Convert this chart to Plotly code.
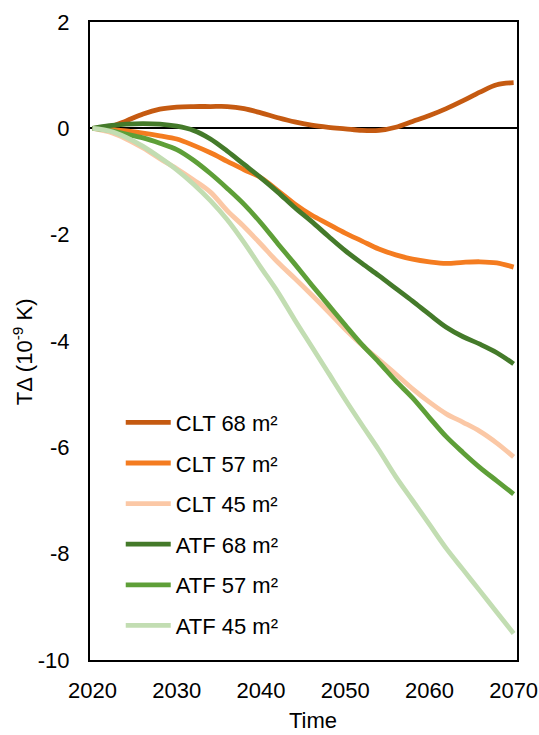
import plotly.graph_objects as go

years = [2020, 2022, 2024, 2026, 2028, 2030, 2032, 2034, 2036, 2038, 2040, 2042, 2044,
         2046, 2048, 2050, 2052, 2054, 2056, 2058, 2060, 2062, 2064, 2066, 2068, 2070]

clt_68 = [0, 0.03, 0.14, 0.27, 0.36, 0.40, 0.41, 0.41, 0.41, 0.37, 0.29, 0.20, 0.12,
          0.06, 0.02, -0.01, -0.04, -0.04, 0.02, 0.13, 0.24, 0.37, 0.52, 0.68, 0.82, 0.86]
clt_57 = [0, -0.02, -0.05, -0.09, -0.14, -0.20, -0.32, -0.46, -0.62, -0.78, -0.93, -1.17, -1.42,
          -1.63, -1.80, -1.97, -2.12, -2.27, -2.38, -2.46, -2.51, -2.54, -2.52, -2.51, -2.53, -2.61]
clt_45 = [0, -0.07, -0.20, -0.37, -0.57, -0.76, -0.97, -1.20, -1.55, -1.85, -2.18, -2.52, -2.82,
          -3.13, -3.45, -3.78, -4.08, -4.35, -4.62, -4.90, -5.15, -5.37, -5.53, -5.70, -5.92, -6.18]
atf_68 = [0, 0.05, 0.08, 0.09, 0.08, 0.04, -0.04, -0.20, -0.43, -0.68, -0.93, -1.20, -1.49,
          -1.75, -2.03, -2.30, -2.54, -2.77, -3.01, -3.25, -3.50, -3.74, -3.92, -4.06, -4.22, -4.43]
atf_57 = [0, -0.04, -0.11, -0.18, -0.28, -0.40, -0.60, -0.85, -1.13, -1.43, -1.78, -2.17, -2.55,
          -2.94, -3.32, -3.70, -4.07, -4.40, -4.75, -5.07, -5.44, -5.80, -6.10, -6.38, -6.63, -6.88]
atf_45 = [0, -0.05, -0.17, -0.34, -0.55, -0.78, -1.05, -1.36, -1.72, -2.15, -2.62, -3.08, -3.60,
          -4.10, -4.60, -5.10, -5.58, -6.05, -6.55, -7.00, -7.45, -7.90, -8.30, -8.70, -9.10, -9.50]

series_names = ["CLT 68 m²", "CLT 57 m²", "CLT 45 m²", "ATF 68 m²", "ATF 57 m²", "ATF 45 m²"]
series_values = [clt_68, clt_57, clt_45, atf_68, atf_57, atf_45]
series_colors = ["#C55A11", "#F47C20", "#FBC8A6", "#447A2A", "#5E9F38", "#C2DDB2"]

x_ticks = [2020, 2030, 2040, 2050, 2060, 2070]
y_ticks = [-10, -8, -6, -4, -2, 0, 2]
y_ticktext = ["-10", "-8", "-6", "-4", "-2", "0", "2"]

x_title = "Time"
y_title = "TΔ (10<sup>-9</sup> K)"

FONT = "Liberation Sans, Arial, sans-serif"
FS = 22

fig = go.Figure()
for i, (name, vals, col) in enumerate(zip(series_names, series_values, series_colors)):
    fig.add_trace(go.Scatter(
        x=years, y=vals, name=name, mode="lines",
        line=dict(color=col, width=4.8, shape="spline", smoothing=1.0),
        legendgroup=f"g{i}",
    ))

fig.update_layout(
    width=539, height=735,
    margin=dict(l=90, r=22, t=22, b=75),
    paper_bgcolor="white", plot_bgcolor="white",
    font=dict(family=FONT, size=FS, color="#000000"),
    showlegend=True,
    legend=dict(
        x=0.072, y=0.405, xanchor="left", yanchor="top",
        bgcolor="rgba(0,0,0,0)", borderwidth=0,
        font=dict(family=FONT, size=FS, color="#000000"),
        traceorder="grouped", tracegroupgap=9,
        itemwidth=45,
    ),
    xaxis=dict(
        range=[2019.7, 2070.4], automargin=False,
        tickmode="array", tickvals=x_ticks,
        showgrid=False, zeroline=False,
        showline=True, linecolor="black", linewidth=2, mirror=True,
        ticks="", ticklabelstandoff=10,
    ),
    yaxis=dict(
        range=[-10, 2], automargin=False,
        tickmode="array", tickvals=y_ticks, ticktext=y_ticktext,
        showgrid=False,
        zeroline=True, zerolinecolor="black", zerolinewidth=1.5,
        showline=True, linecolor="black", linewidth=2, mirror=True,
        ticks="", ticklabelstandoff=14,
    ),
    annotations=[
        dict(text=x_title, xref="paper", yref="paper", x=0.522, y=-0.0956,
             xanchor="center", yanchor="middle", showarrow=False, borderpad=0,
             font=dict(family=FONT, size=FS, color="#000000")),
        dict(text=y_title, xref="paper", yref="paper", x=-0.157, y=0.484,
             xanchor="center", yanchor="middle", showarrow=False, textangle=-90,
             font=dict(family=FONT, size=FS, color="#000000")),
    ],
)

fig.write_html("out.html", config={"displayModeBar": False},
               post_script="document.body.style.margin='0';")
